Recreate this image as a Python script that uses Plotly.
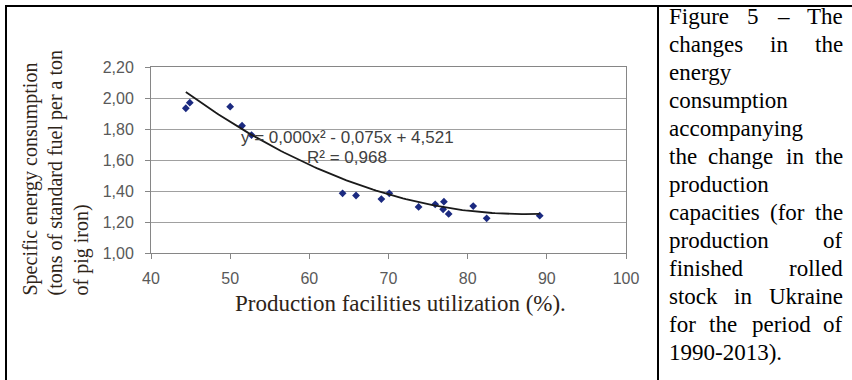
import numpy as np
import plotly.graph_objects as go

# Production facilities utilization (%) and specific energy consumption
# (tons of standard fuel per ton of pig iron)
utilization = [44.4, 44.9, 50.0, 51.5, 52.7, 64.2, 65.9, 69.1, 70.1,
               73.8, 75.9, 77.0, 76.9, 77.6, 80.7, 82.4, 89.1]
consumption = [1.934, 1.970, 1.944, 1.821, 1.761, 1.385, 1.371, 1.348, 1.385,
               1.297, 1.314, 1.331, 1.282, 1.252, 1.303, 1.224, 1.241]

# Polynomial (order 2) trendline: a*x^2 + b*x + c
trend_coeffs = [0.00043, -0.075, 4.521]
r_squared = 0.968

x_ticks = [40, 50, 60, 70, 80, 90, 100]
y_ticks = [1.0, 1.2, 1.4, 1.6, 1.8, 2.0, 2.2]

y_title_lines = ["Specific energy consumption",
                 "(tons of standard fuel per a ton",
                 "of pig iron)"]
x_title = "Production facilities utilization (%)."

caption_lines = ["Figure 5 \u2013 The", "changes in the", "energy", "consumption",
                 "accompanying", "the change in the", "production",
                 "capacities (for the", "production of", "finished rolled",
                 "stock in Ukraine", "for the period of", "1990-2013)."]

# ---- page geometry (pixels) ----
W, H = 852, 380
PL, PR, PT, PB = 151, 626, 67, 253


def px(x):
    return (x - PL) / (PR - PL)


def py(y):
    return (PB - y) / (PB - PT)


def fmt(v):
    return f"{abs(v):.3f}".replace(".", ",")


fig = go.Figure()

fig.add_trace(go.Scatter(
    x=utilization, y=consumption, mode="markers",
    marker=dict(symbol="diamond", size=6, color="#1b2a80"),
    hoverinfo="x+y", showlegend=False))

tx = np.linspace(min(utilization), max(utilization), 120)
ty = np.polyval(trend_coeffs, tx)
fig.add_trace(go.Scatter(
    x=tx, y=ty, mode="lines", line=dict(color="#1a1a1a", width=1.8),
    hoverinfo="skip", showlegend=False))

a, b, c = trend_coeffs
eq1 = (f"y = {fmt(a)}x\u00b2 {'-' if b < 0 else '+'} {fmt(b)}x "
       f"{'-' if c < 0 else '+'} {fmt(c)}")
eq2 = f"R\u00b2 = {fmt(r_squared)}"

annotations = []
eq_font = dict(family="Liberation Sans, Arial", size=17, color="#404040")
annotations.append(dict(text=eq1, x=px(347), y=py(137), xref="paper", yref="paper",
                        xanchor="center", yanchor="middle", showarrow=False, font=eq_font))
annotations.append(dict(text=eq2, x=px(346.5), y=py(157), xref="paper", yref="paper",
                        xanchor="center", yanchor="middle", showarrow=False, font=eq_font))

# axis titles
title_color = "#2e2418"
for xc, line in zip([30, 55, 81], y_title_lines):
    annotations.append(dict(text=line, x=px(xc), y=py(298), xref="paper", yref="paper",
                            xanchor="center", yanchor="bottom", textangle=-90,
                            showarrow=False,
                            font=dict(family="Liberation Serif, Times New Roman",
                                      size=20, color=title_color)))
annotations.append(dict(text=x_title, x=px(233), y=py(303), xref="paper", yref="paper",
                        xanchor="left", yanchor="middle", showarrow=False,
                        font=dict(family="Liberation Serif, Times New Roman",
                                  size=23, color=title_color)))

# ---- justified caption at the right ----
TIMES_W = {"a": 444, "b": 500, "c": 444, "d": 500, "e": 444, "f": 333, "g": 500,
           "h": 500, "i": 278, "k": 500, "l": 278, "m": 778, "n": 500, "o": 500,
           "p": 500, "r": 333, "s": 389, "t": 278, "u": 500, "y": 500, "F": 556,
           "T": 611, "U": 722, "(": 333, ")": 333, "-": 333, "\u2013": 500,
           ".": 250}
CAP_SIZE = 23
CAP_L, CAP_R = 667, 845
CAP_Y0, CAP_DY = 16, 28


def word_w(w):
    return sum(TIMES_W.get(ch, 500) for ch in w) * CAP_SIZE / 1000.0


cap_font = dict(family="Liberation Serif, Times New Roman", size=CAP_SIZE, color="#000000")
for i, line in enumerate(caption_lines):
    yc = CAP_Y0 + CAP_DY * i
    words = line.split(" ")
    last = i == len(caption_lines) - 1
    if len(words) == 1 or last:
        annotations.append(dict(text=line, x=px(CAP_L), y=py(yc), xref="paper", yref="paper",
                                xanchor="left", yanchor="middle", showarrow=False,
                                font=cap_font))
        continue
    widths = [word_w(w) for w in words]
    gap = (CAP_R - CAP_L - sum(widths)) / (len(words) - 1)
    xpos = CAP_L
    for j, (w, ww) in enumerate(zip(words, widths)):
        if j == 0:
            anchor, xa = "left", CAP_L
        elif j == len(words) - 1:
            anchor, xa = "right", CAP_R
        else:
            anchor, xa = "center", xpos + ww / 2
        annotations.append(dict(text=w, x=px(xa), y=py(yc), xref="paper", yref="paper",
                                xanchor=anchor, yanchor="middle", showarrow=False,
                                font=cap_font))
        xpos += ww + gap

# ---- table frame ----
frame = dict(color="#000000", width=2)
shapes = [
    dict(type="line", xref="paper", yref="paper", x0=px(5), x1=px(852), y0=py(6), y1=py(6), line=frame),
    dict(type="line", xref="paper", yref="paper", x0=px(6), x1=px(6), y0=py(6), y1=py(381), line=frame),
    dict(type="line", xref="paper", yref="paper", x0=px(658), x1=px(658), y0=py(6), y1=py(381), line=frame),
]

tick_font = dict(family="Liberation Sans, Arial", size=16, color="#595959")
fig.update_layout(
    width=W, height=H,
    margin=dict(l=PL, r=W - PR, t=PT, b=H - PB, pad=0),
    paper_bgcolor="white", plot_bgcolor="white",
    separators=", ",
    showlegend=False,
    annotations=annotations,
    shapes=shapes,
    xaxis=dict(range=[40, 100], tickvals=x_ticks, showgrid=False, zeroline=False,
               showline=True, linecolor="#868686", linewidth=1, mirror=True,
               ticks="outside", ticklen=5, tickcolor="#868686", tickfont=tick_font,
               ticklabelstandoff=6),
    yaxis=dict(range=[1.0, 2.2], tickvals=y_ticks, tickformat=".2f", showgrid=True,
               gridcolor="#a0a0a0", gridwidth=1, zeroline=False,
               showline=True, linecolor="#868686", linewidth=1, mirror=True,
               ticks="outside", ticklen=5, tickcolor="#868686", tickfont=tick_font,
               ticklabelstandoff=8),
)

fig.write_html("out.html")
